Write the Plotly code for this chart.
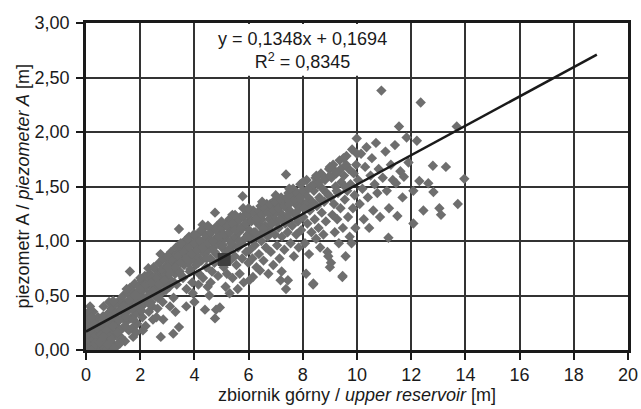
import plotly.graph_objects as go

zbiornik = [
    0.02, 0.05, 0.08, 0.10, 0.12, 0.15, 0.18, 0.20, 0.22, 0.25, 0.28, 0.30, 0.32, 0.35, 0.38, 0.40, 0.42, 0.45, 0.48,
    0.04, 0.10, 0.15, 0.06, 0.27, 0.35, 0.44, 0.01, 0.03, 0.07, 0.13, 0.19, 0.24, 0.33, 0.41, 0.47, 0.09, 0.17, 0.29,
    0.52, 0.55, 0.58, 0.60, 0.63, 0.66, 0.70, 0.72, 0.75, 0.78, 0.80, 0.83, 0.86, 0.88, 0.91, 0.94, 0.97, 0.99, 0.65, 0.85,
    0.54, 0.69, 0.77, 0.92, 0.62, 0.81,
    1.02, 1.05, 1.08, 1.11, 1.15, 1.18, 1.22, 1.25, 1.28, 1.31, 1.35, 1.38, 1.41, 1.44, 1.47, 1.49, 1.20, 1.33, 1.12, 1.27,
    1.52, 1.55, 1.58, 1.61, 1.62, 1.62, 1.65, 1.68, 1.71, 1.74, 1.77, 1.80, 1.83, 1.86, 1.89, 1.92, 1.95, 1.98, 1.70, 1.85,
    2.02, 2.05, 2.08, 2.11, 2.14, 2.17, 2.20, 2.23, 2.26, 2.29, 2.32, 2.35, 2.38, 2.41, 2.44, 2.47, 2.49, 2.10, 2.30, 2.45,
    2.52, 2.55, 2.58, 2.61, 2.64, 2.67, 2.70, 2.73, 2.76, 2.77, 2.80, 2.83, 2.86, 2.89, 2.92, 2.95, 2.98, 2.60, 2.85, 2.75,
    3.02, 3.05, 3.08, 3.11, 3.14, 3.17, 3.20, 3.22, 3.23, 3.26, 3.29, 3.32, 3.35, 3.38, 3.41, 3.43, 3.43, 3.46, 3.49, 3.10, 3.30,
    3.52, 3.55, 3.58, 3.59, 3.62, 3.65, 3.68, 3.71, 3.74, 3.77, 3.80, 3.83, 3.86, 3.89, 3.92, 3.94, 3.95, 3.98, 4.00, 3.70,
    4.02, 4.05, 4.08, 4.11, 4.14, 4.17, 4.20, 4.23, 4.26, 4.29, 4.32, 4.35, 4.38, 4.39, 4.41, 4.44, 4.47, 4.49, 4.15, 4.30,
    4.52, 4.55, 4.56, 4.59, 4.62, 4.65, 4.68, 4.71, 4.74, 4.76, 4.76, 4.78, 4.80, 4.81, 4.84, 4.87, 4.90, 4.93, 4.94, 4.96, 4.99, 4.60,
    5.02, 5.05, 5.08, 5.11, 5.14, 5.17, 5.20, 5.23, 5.26, 5.29, 5.32, 5.35, 5.38, 5.41, 5.44, 5.47, 5.49, 5.15, 5.40, 5.30,
    5.52, 5.55, 5.58, 5.61, 5.64, 5.67, 5.70, 5.73, 5.76, 5.78, 5.79, 5.82, 5.85, 5.88, 5.91, 5.94, 5.97, 5.99, 5.60, 5.80,
    6.02, 6.03, 6.05, 6.08, 6.11, 6.14, 6.16, 6.17, 6.20, 6.23, 6.26, 6.29, 6.32, 6.35, 6.38, 6.41, 6.42, 6.44, 6.47, 6.49,
    6.52, 6.55, 6.58, 6.61, 6.64, 6.67, 6.70, 6.73, 6.76, 6.79, 6.82, 6.85, 6.88, 6.91, 6.94, 6.97, 6.99,
    7.02, 7.05, 7.08, 7.11, 7.14, 7.17, 7.18, 7.20, 7.22, 7.23, 7.26, 7.29, 7.32, 7.35, 7.38, 7.38, 7.41, 7.44, 7.45, 7.47, 7.49,
    7.52, 7.55, 7.58, 7.61, 7.64, 7.67, 7.70, 7.73, 7.76, 7.79, 7.82, 7.85, 7.88, 7.91, 7.94, 7.97,
    8.02, 8.05, 8.08, 8.11, 8.12, 8.14, 8.17, 8.20, 8.23, 8.26, 8.29, 8.32, 8.35, 8.38, 8.39, 8.41, 8.44, 8.47, 8.49,
    8.52, 8.55, 8.58, 8.61, 8.64, 8.67, 8.70, 8.73, 8.76, 8.79, 8.82, 8.85, 8.88, 8.91, 8.94, 8.97, 9.00,
    9.03, 9.04, 9.06, 9.09, 9.12, 9.15, 9.18, 9.21, 9.24, 9.27, 9.30, 9.33, 9.36, 9.39, 9.42, 9.46, 9.47, 9.48,
    9.52, 9.55, 9.58, 9.61, 9.64, 9.67, 9.70, 9.73, 9.76, 9.80, 9.82, 9.85, 9.88, 9.91, 9.94, 9.97, 9.99,
    10.04, 10.10, 10.15, 10.20, 10.25, 10.30, 10.35, 10.40, 10.45, 10.50, 10.55, 10.60, 10.65, 10.70, 10.75, 10.80, 10.85, 10.90, 10.95,
    11.05, 11.10, 11.16, 11.18, 11.25, 11.32, 11.40, 11.44, 11.49, 11.55, 11.60, 11.68, 11.73, 11.83, 11.90,
    12.08, 12.08, 12.21, 12.30, 12.35, 12.45, 12.63, 12.80, 12.82, 13.04, 13.10, 13.28, 13.68, 13.72, 13.96,
]
piezometr = [
    0.01, 0.04, 0.10, 0.02, 0.15, 0.06, 0.22, 0.03, 0.11, 0.18, 0.05, 0.28, 0.09, 0.14, 0.02, 0.21, 0.07, 0.12, 0.04,
    0.30, 0.25, 0.40, 0.18, 0.35, 0.25, 0.30, 0.12, 0.22, 0.01, 0.08, 0.01, 0.02, 0.03, 0.01, 0.02, 0.06, 0.13, 0.16,
    0.15, 0.03, 0.22, 0.10, 0.31, 0.05, 0.18, 0.26, 0.12, 0.02, 0.21, 0.34, 0.09, 0.28, 0.16, 0.38, 0.06, 0.24, 0.40, 0.44,
    0.01, 0.02, 0.07, 0.03, 0.14, 0.01,
    0.30, 0.14, 0.42, 0.22, 0.05, 0.35, 0.27, 0.46, 0.12, 0.38, 0.20, 0.50, 0.31, 0.08, 0.43, 0.26, 0.18, 0.40, 0.03, 0.10,
    0.35, 0.52, 0.18, 0.44, 0.72, 0.57, 0.29, 0.55, 0.39, 0.12, 0.48, 0.61, 0.33, 0.52, 0.24, 0.45, 0.58, 0.37, 0.20, 0.16,
    0.50, 0.64, 0.30, 0.55, 0.42, 0.68, 0.22, 0.58, 0.47, 0.62, 0.35, 0.70, 0.53, 0.44, 0.66, 0.28, 0.57, 0.18, 0.75, 0.40,
    0.62, 0.74, 0.49, 0.68, 0.38, 0.58, 0.80, 0.66, 0.12, 0.52, 0.72, 0.44, 0.84, 0.61, 0.70, 0.55, 0.78, 0.30, 0.28, 0.88,
    0.66, 0.82, 0.58, 0.74, 0.90, 0.63, 0.78, 0.15, 0.48, 0.86, 0.70, 0.94, 0.60, 0.80, 0.88, 0.21, 1.11, 0.72, 0.96, 0.40, 0.35,
    0.84, 0.92, 0.66, 0.98, 0.78, 1.00, 0.86, 0.56, 0.94, 0.80, 1.04, 0.72, 0.90, 0.98, 0.62, 0.52, 0.84, 1.06, 0.44, 0.40,
    0.90, 0.78, 1.02, 0.86, 0.96, 0.70, 1.08, 0.92, 0.82, 1.00, 0.66, 1.12, 0.88, 0.37, 0.98, 0.76, 1.04, 0.58, 0.60, 1.15,
    0.92, 0.50, 1.06, 0.84, 1.00, 0.72, 1.10, 0.94, 0.80, 1.26, 0.29, 1.02, 0.37, 0.88, 1.14, 0.68, 0.98, 1.08, 0.39, 0.82, 1.04, 0.62,
    0.94, 1.12, 0.76, 1.02, 0.88, 1.16, 0.70, 1.06, 0.92, 1.20, 0.82, 1.00, 1.10, 0.66, 0.96, 1.14, 0.86, 0.58, 1.24, 0.52,
    1.04, 0.78, 1.18, 0.94, 1.08, 0.70, 1.22, 0.98, 0.84, 1.41, 1.12, 0.62, 1.02, 1.16, 0.90, 1.26, 1.06, 0.80, 0.56, 1.30,
    1.10, 0.64, 0.92, 1.20, 1.02, 0.84, 0.67, 1.28, 1.08, 0.96, 1.18, 0.76, 1.24, 1.04, 0.88, 1.14, 0.73, 1.32, 1.00, 1.20,
    1.08, 0.82, 1.26, 1.14, 0.94, 1.34, 1.04, 0.70, 1.20, 1.10, 0.90, 1.30, 1.16, 0.78, 1.24, 1.06, 1.38,
    1.18, 0.96, 1.32, 1.12, 0.84, 1.26, 0.64, 1.40, 0.72, 1.04, 1.22, 1.36, 0.92, 1.16, 1.61, 0.56, 1.30, 1.08, 0.64, 1.44, 1.20,
    1.28, 0.98, 1.38, 1.14, 1.48, 0.86, 1.24, 1.34, 1.06, 1.42, 1.18, 0.94, 1.30, 1.52, 1.10, 1.36,
    1.22, 1.44, 0.98, 1.34, 0.70, 1.56, 1.16, 1.40, 0.88, 1.28, 1.50, 1.08, 1.36, 0.60, 0.61, 1.46, 1.20, 1.58, 1.02,
    1.32, 1.52, 1.12, 1.40, 0.94, 1.62, 1.26, 1.48, 1.06, 1.36, 1.56, 1.18, 1.44, 0.90, 0.86, 1.66, 0.76,
    1.40, 0.80, 1.58, 1.24, 1.70, 1.34, 1.08, 1.50, 1.62, 1.20, 1.44, 0.98, 1.74, 1.30, 1.54, 0.67, 0.68, 1.12,
    1.60, 1.38, 0.86, 1.78, 1.46, 1.22, 1.66, 1.04, 1.52, 0.98, 1.84, 1.30, 1.62, 1.42, 1.12, 1.70, 1.94,
    1.56, 1.34, 1.80, 1.48, 1.20, 1.68, 1.86, 1.40, 1.12, 1.60, 1.76, 1.28, 1.52, 1.90, 1.44, 1.66, 1.22, 2.38, 1.58,
    1.82, 1.46, 1.03, 1.30, 1.70, 1.56, 1.88, 1.53, 1.23, 2.05, 1.64, 1.40, 1.59, 1.95, 1.72,
    1.46, 1.16, 1.92, 1.55, 2.27, 1.28, 1.53, 1.69, 1.45, 1.30, 1.24, 1.68, 2.05, 1.34, 1.57,
]

# gesty rdzen chmury punktow (dodatkowe odczyty)
zbiornik_rdzen = [
    0.30, 0.45, 0.60, 0.75, 0.90, 1.00, 1.10, 1.20, 1.30, 1.40, 1.50, 1.60, 1.70, 1.80, 1.90, 2.00, 2.10, 2.20, 2.30,
    2.40, 2.50, 2.60, 2.70, 2.80, 2.90, 3.00, 3.10, 3.20, 3.30, 3.40, 3.50, 3.60, 3.70, 3.80, 3.90, 4.00, 4.10, 4.20,
    4.30, 4.40, 4.50, 4.60, 4.70, 4.80, 4.90, 5.00, 5.10, 5.20, 5.30, 5.40, 5.50, 5.60, 5.70, 5.80, 5.90, 6.00, 6.10,
    6.20, 6.30, 6.40, 6.50, 6.60, 6.70, 6.80, 6.90, 7.00, 7.10, 7.20, 7.30, 7.40, 7.50, 7.60, 7.70, 7.80, 7.90, 8.00,
    8.20, 8.40, 8.60, 8.80, 9.00, 9.20, 9.40, 9.60,
    0.20, 0.55, 0.85, 1.15, 1.45, 1.75, 2.05, 2.35, 2.65, 2.95, 3.25, 3.55, 3.85, 4.15, 4.45, 4.75, 5.05, 5.35, 5.65,
    5.95, 6.25, 6.55, 6.85, 7.15, 7.45, 7.75, 8.05, 8.35, 8.65, 8.95, 9.25, 9.55,
    1.00, 1.50, 2.00, 2.50, 3.00, 3.50, 3.75, 4.00, 4.25, 4.50, 5.00, 5.50, 6.00, 6.50, 7.00, 7.50, 8.00, 8.50, 9.00,
    9.50, 10.00,
    0.05, 0.15, 0.25, 0.35, 0.50, 0.65, 0.80, 0.95, 1.05, 1.25, 0.10, 0.20,
]
piezometr_rdzen = [
    0.12, 0.20, 0.28, 0.18, 0.30, 0.22, 0.34, 0.28, 0.36, 0.40, 0.30, 0.46, 0.38, 0.50, 0.42, 0.56, 0.46, 0.60, 0.50,
    0.62, 0.54, 0.66, 0.60, 0.74, 0.64, 0.76, 0.70, 0.84, 0.76, 0.86, 0.80, 0.90, 0.84, 0.94, 0.88, 0.98, 0.92, 1.00,
    0.94, 1.06, 0.98, 1.08, 1.00, 1.10, 1.04, 1.12, 1.06, 1.14, 1.08, 1.16, 1.10, 1.20, 1.12, 1.22, 1.16, 1.24, 1.18,
    1.26, 1.20, 1.28, 1.24, 1.30, 1.26, 1.34, 1.28, 1.36, 1.30, 1.38, 1.32, 1.40, 1.34, 1.42, 1.38, 1.44, 1.40, 1.46,
    1.48, 1.52, 1.54, 1.58, 1.60, 1.64, 1.66, 1.70,
    0.08, 0.14, 0.12, 0.16, 0.22, 0.28, 0.36, 0.42, 0.48, 0.56, 0.62, 0.68, 0.74, 0.80, 0.84, 0.90, 0.96, 0.98, 1.00,
    1.04, 1.08, 1.12, 1.16, 1.20, 1.24, 1.26, 1.30, 1.32, 1.38, 1.42, 1.46, 1.50,
    0.45, 0.56, 0.66, 0.76, 0.86, 0.98, 1.02, 1.06, 1.10, 1.14, 1.18, 1.24, 1.30, 1.36, 1.42, 1.48, 1.54, 1.60, 1.68,
    1.76, 1.80,
    0.06, 0.03, 0.01, 0.06, 0.07, 0.12, 0.05, 0.10, 0.02, 0.06, 0.35, 0.30,
]

# ciemny kwadrat widoczny w chmurze punktow
punkt_sredni_x = [5.1]
punkt_sredni_y = [0.83]

# linia trendu: y = 0,1348x + 0,1694
a, b = 0.1348, 0.1694
trend_x = [0.0, 18.85]
trend_y = [a * v + b for v in trend_x]

x_ticks = [0, 2, 4, 6, 8, 10, 12, 14, 16, 18, 20]
y_ticks = [0, 0.5, 1.0, 1.5, 2.0, 2.5, 3.0]

font = "Liberation Sans, Arial, sans-serif"

fig = go.Figure()
fig.add_trace(go.Scatter(
    x=zbiornik + zbiornik_rdzen, y=piezometr + piezometr_rdzen, mode="markers",
    marker=dict(symbol="diamond", size=8, color="#6e6e6e", line=dict(width=0)),
    showlegend=False,
))
fig.add_trace(go.Scatter(
    x=punkt_sredni_x, y=punkt_sredni_y, mode="markers",
    marker=dict(symbol="square", size=13, color="#404040"),
    showlegend=False,
))
fig.add_trace(go.Scatter(
    x=trend_x, y=trend_y, mode="lines",
    line=dict(color="#1a1a1a", width=2.5),
    showlegend=False,
))

# biale pole pod rownaniem
fig.add_shape(type="rect", x0=4.06, x1=11.94, y0=2.515, y1=2.99,
              fillcolor="white", line=dict(width=0), layer="between")
fig.add_annotation(x=8, y=2.75, xref="x", yref="y", showarrow=False,
                   text="y = 0,1348x + 0,1694<br>R<sup>2</sup> = 0,8345",
                   font=dict(family=font, size=18, color="#1a1a1a"), align="center")

# tytul osi y jako adnotacja (dokladne polozenie)
fig.add_annotation(x=-0.118, y=0.5, xref="paper", yref="paper", showarrow=False,
                   xanchor="center", yanchor="middle",
                   text="piezometr A / <i>piezometer A</i> [m]", textangle=-90,
                   font=dict(family=font, size=18, color="#1a1a1a"))

axis_common = dict(
    showgrid=True, gridcolor="#333333", gridwidth=1.5,
    showline=True, linecolor="#1a1a1a", linewidth=2.5, mirror=True,
    ticks="outside", ticklen=7, tickwidth=1.5, tickcolor="#1a1a1a",
    zeroline=False, automargin=False,
    tickfont=dict(family=font, size=18, color="#1a1a1a"),
)

fig.update_layout(
    width=641, height=409,
    margin=dict(l=86, r=13, t=23, b=59),
    paper_bgcolor="white", plot_bgcolor="white",
    separators=", ",
    xaxis=dict(range=[0, 20], tickvals=x_ticks,
               title=dict(text="zbiornik górny / <i>upper reservoir</i> [m]",
                          font=dict(family=font, size=18, color="#1a1a1a"), standoff=4),
               **axis_common),
    yaxis=dict(range=[0, 3], tickvals=y_ticks, tickformat=".2f",
               ticklabelstandoff=3, **axis_common),
)

# bez marginesu strony, zeby wykres zaczynal sie w lewym gornym rogu
fig.write_html("out.html", config={"displayModeBar": False},
               post_script="document.body.style.margin='0';")
